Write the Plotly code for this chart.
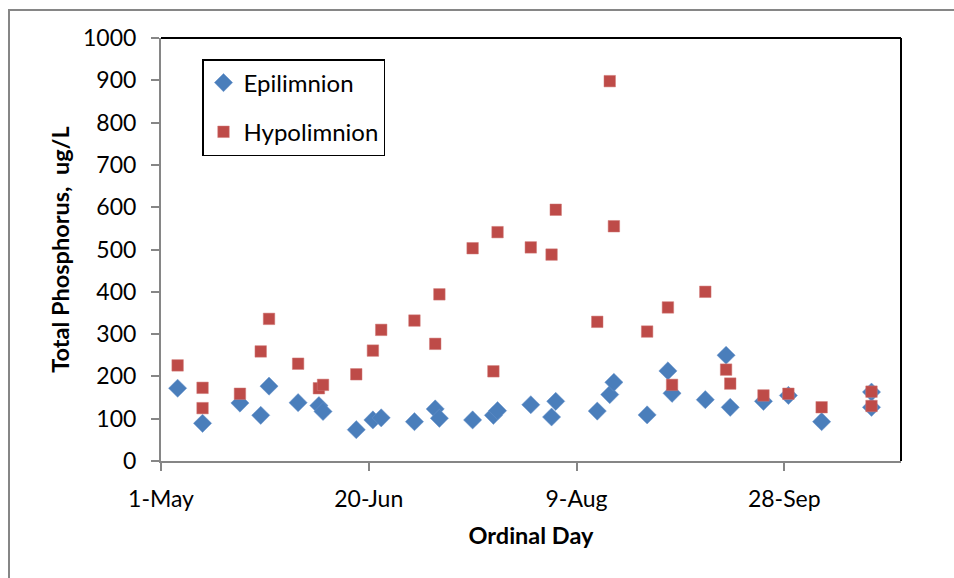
import plotly.graph_objects as go

# Ordinal day (1-May = 121)
epi_days = [125, 131, 140, 145, 147, 154, 159, 160, 168, 172, 174, 182, 187, 188,
            196, 201, 202, 210, 215, 216, 226, 229, 230, 238, 243, 244, 252, 257,
            258, 266, 272, 280, 292, 292]
epi_tp = [172, 89, 137, 108, 177, 138, 131, 117, 74, 97, 102, 93, 123, 101,
          97, 108, 119, 133, 104, 141, 118, 157, 186, 109, 213, 160, 145, 250,
          127, 141, 155, 93, 163, 127]

hypo_days = [125, 131, 131, 140, 145, 147, 154, 159, 160, 168, 172, 174, 182, 187,
             188, 196, 201, 202, 210, 215, 216, 226, 229, 230, 238, 243, 244, 252,
             257, 258, 266, 272, 280, 292, 292]
hypo_tp = [226, 173, 125, 159, 259, 336, 230, 172, 180, 205, 261, 310, 332, 277,
           394, 503, 212, 541, 505, 488, 594, 329, 898, 555, 306, 363, 180, 400,
           216, 183, 155, 159, 127, 164, 130]

x_tickvals = [121, 171, 221, 271]
x_ticktext = ["1-May", "20-Jun", "9-Aug", "28-Sep"]

FONT = "Lato, 'Open Sans', sans-serif"
GRAY = "#868686"

fig = go.Figure()
fig.add_trace(go.Scatter(
    x=epi_days, y=epi_tp, mode="markers", name="Epilimnion", legendgroup="a",
    marker=dict(symbol="diamond", size=14, color="#4A7EBB",
                line=dict(width=0.5, color="#6A95CC")),
))
fig.add_trace(go.Scatter(
    x=hypo_days, y=hypo_tp, mode="markers", name="Hypolimnion", legendgroup="b",
    marker=dict(symbol="square", size=11.5, color="#BE4B48",
                line=dict(width=0.5, color="#D07A78")),
))

fig.update_layout(
    width=954, height=578,
    margin=dict(l=161, r=53, t=38, b=117),
    paper_bgcolor="white", plot_bgcolor="white",
    font=dict(family=FONT, size=23, color="black"),
    showlegend=True,
    legend=dict(
        x=(202 - 161) / 740, y=(461 - 59) / 423, xanchor="left", yanchor="top",
        bordercolor="black", borderwidth=1.5, bgcolor="white",
        font=dict(family=FONT, size=24), tracegroupgap=15,
        itemwidth=30,
    ),
    xaxis=dict(
        range=[121, 299.1], tickvals=x_tickvals, ticktext=x_ticktext,
        showgrid=False, zeroline=False, showline=True, linecolor=GRAY, linewidth=2,
        ticks="outside", ticklen=8, tickwidth=1.5, tickcolor=GRAY,
        ticklabelstandoff=8, tickfont=dict(size=23),
        title=dict(text="<b>Ordinal Day</b>", font=dict(family=FONT, size=23.5), standoff=17),
    ),
    yaxis=dict(
        range=[0, 1000], dtick=100, tick0=0,
        showgrid=False, zeroline=False, showline=True, linecolor=GRAY, linewidth=2,
        ticks="outside", ticklen=8, tickwidth=1.5, tickcolor=GRAY,
        ticklabelstandoff=10, tickfont=dict(size=23),
        title=dict(text="<b>Total Phosphorus,  ug/L</b>", font=dict(family=FONT, size=23.5), standoff=7),
    ),
    shapes=[
        dict(type="line", xref="paper", yref="paper", x0=0, x1=1, y0=1, y1=1,
             line=dict(color="black", width=2)),
        dict(type="line", xref="paper", yref="paper", x0=1, x1=1, y0=0, y1=1,
             line=dict(color="black", width=2)),
        dict(type="rect", xref="paper", yref="paper",
             x0=(9 - 161) / 740, x1=1.2, y0=-0.5, y1=(461 - 10) / 423,
             line=dict(color=GRAY, width=2), fillcolor="rgba(0,0,0,0)", layer="below"),
    ],
)

fig.write_html("out.html")
